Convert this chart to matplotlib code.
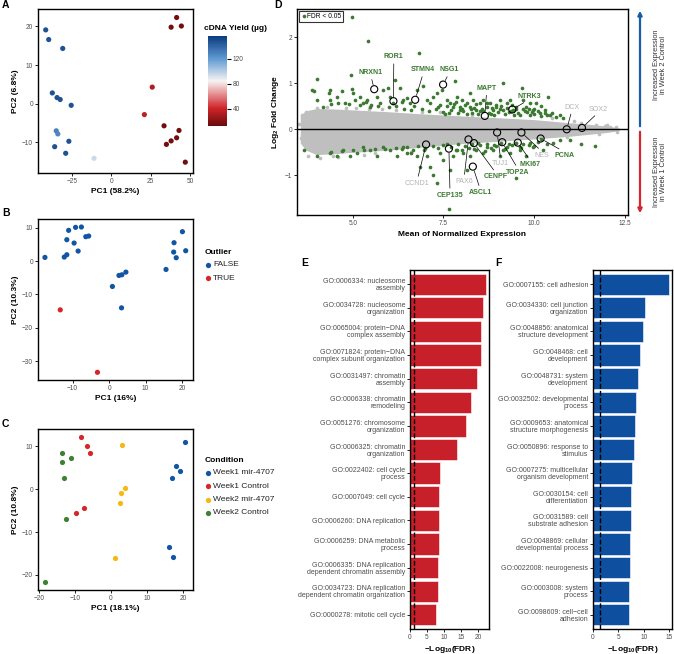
import matplotlib
matplotlib.use('Agg')
import matplotlib.pyplot as plt
from matplotlib.colors import LinearSegmentedColormap, Normalize
from matplotlib.lines import Line2D
import matplotlib.colorbar as mcb
import matplotlib.patches as mpatches

plt.rcParams['font.family'] = ['Liberation Sans', 'DejaVu Sans']
plt.rcParams['mathtext.fontset'] = 'custom'
plt.rcParams['mathtext.rm'] = 'Liberation Sans'
plt.rcParams['mathtext.bf'] = 'Liberation Sans:bold'
plt.rcParams['mathtext.default'] = 'regular'

# ---------------- data ----------------
# Panel A
a_pc1 = [-41.7, -39.8, -30.9, -37.5, -34.5, -32.5, -25.5, -35.0, -34.0, -36.0, -27.0, -29.0, -11.0,
         41.5, 38.0, 44.5, 26.0, 21.0, 33.5, 43.0, 41.5, 38.0, 35.0, 47.0]
a_pc2 = [19.1, 16.6, 14.3, 2.8, 1.6, 1.1, -0.4, -7.0, -7.8, -11.1, -9.7, -12.8, -14.1,
         22.3, 19.8, 20.1, 4.3, -2.8, -5.7, -6.9, -8.8, -9.6, -10.5, -15.1]
a_yield = [148, 148, 148, 148, 148, 148, 148, 130, 128, 148, 148, 148, 95,
           15, 15, 15, 32, 36, 15, 15, 15, 15, 15, 15]

# Panel B
b_pc1 = [-17.6, -11.1, -9.2, -7.6, -11.6, -9.6, -6.4, -5.6, -12.3, -11.6, -8.5, 0.9, 2.7, 3.5, 4.6, 3.4,
         15.6, 20.1, 17.8, 17.7, 18.4, 21.0, -13.4, -3.2]
b_pc2 = [1.1, 9.2, 10.1, 10.2, 6.4, 5.4, 7.3, 7.5, 1.2, 1.9, 3.0, -7.6, -4.3, -4.1, -3.3, -14.0,
         -2.5, 8.8, 5.5, 2.7, 1.0, 3.1, -14.6, -33.3]
b_outlier = ['FALSE'] * 22 + ['TRUE'] * 2
b_levels = ['FALSE', 'TRUE']

# Panel C
c_levels = ['Week1 mir-4707', 'Week1 Control', 'Week2 mir-4707', 'Week2 Control']
c_pc1 = {
    'Week1 mir-4707': [20.6, 18.1, 19.0, 17.0, 16.0, 17.3],
    'Week1 Control': [-8.4, -6.5, -5.7, -7.6, -9.7],
    'Week2 mir-4707': [3.1, 3.9, 2.8, 2.5, 1.2],
    'Week2 Control': [-13.5, -13.6, -11.0, -13.0, -12.4, -18.2],
}
c_pc2 = {
    'Week1 mir-4707': [10.9, 5.3, 4.3, 2.5, -13.6, -15.8],
    'Week1 Control': [12.2, 10.0, 8.4, -4.5, -5.6],
    'Week2 mir-4707': [10.2, 0.3, -0.8, -3.3, -16.0],
    'Week2 Control': [8.4, 6.4, 7.3, 2.6, -6.9, -21.7],
}

# Panel D: envelope of the dense non-significant cloud
cloud_x = [3.55, 3.7, 4.0, 4.5, 5.0, 6.0, 7.0, 8.0, 9.0, 10.0, 11.0, 11.5, 12.0, 12.35]
cloud_hi = [0.30, 0.40, 0.45, 0.44, 0.42, 0.38, 0.33, 0.29, 0.25, 0.21, 0.14, 0.11, 0.07, 0.03]
cloud_lo = [-0.30, -0.45, -0.55, -0.53, -0.50, -0.45, -0.38, -0.31, -0.26, -0.21, -0.15, -0.11, -0.07, -0.03]
gray_x = [3.6, 3.75, 4.1, 4.3, 4.6, 5.3, 5.8, 6.6, 7.4, 11.7, 11.95, 12.1, 12.25, 10.9, 11.3, 3.7, 4.0, 5.1,
          3.52, 3.58, 4.8, 5.6, 6.2, 7.0, 8.3, 9.5, 10.5, 11.1, 11.8, 12.0, 12.3, 4.45, 5.45, 6.9]
gray_y = [0.32, -0.58, -0.62, 0.48, -0.6, -0.55, 0.44, -0.5, 0.37, 0.1, 0.08, 0.06, 0.04, -0.17, 0.14, 0.38,
          0.47, 0.46, 0.12, -0.2, 0.47, -0.52, 0.42, -0.43, 0.32, -0.3, 0.24, 0.17, -0.1, 0.09, -0.05, -0.58,
          0.45, 0.37]

green_x = [4.01, 3.87, 3.92, 4.01, 4.38, 4.33, 4.36, 4.19, 4.56, 4.70, 4.79, 4.95, 4.97, 5.0, 5.06, 5.20,
           5.29, 5.39, 5.43, 5.48, 5.66, 5.75, 5.84, 5.98, 6.03, 6.17, 6.30, 6.35, 6.39, 6.49, 6.58, 6.76,
           6.83, 6.94, 7.04, 7.13, 7.22, 7.31, 7.36, 7.45, 7.59, 7.68, 7.82, 7.86, 7.95, 8.0, 8.14, 8.23,
           8.23, 8.32, 8.41, 8.50, 8.60, 8.69, 8.78, 8.87, 8.96, 9.06, 9.13, 9.15, 9.24, 9.33, 9.42, 9.51,
           9.67, 9.70, 9.79, 9.88, 9.97, 10.06, 10.16, 10.29, 10.39, 10.48, 10.71, 10.80,
           7.5, 7.7, 7.9, 8.05, 8.3, 8.45, 8.55, 8.75, 8.9, 9.0, 9.2, 9.35, 9.55, 9.6, 9.8, 9.9, 10.0,
           10.2, 10.35, 10.6, 7.3, 7.1, 6.9, 6.6, 6.4, 6.2, 6.0, 5.7, 5.5, 5.2, 4.9, 4.6, 4.4, 8.1, 8.4,
           8.7, 9.1, 9.4, 9.7, 10.0, 10.2, 8.0, 7.8, 7.6, 9.25, 8.85,
           7.55, 7.75, 7.95, 8.15, 8.35, 8.6, 8.8, 9.05, 9.3, 9.5, 9.75, 9.95, 10.1, 10.45, 7.4, 7.65,
           7.85, 8.25, 8.5, 8.95, 9.45, 9.85, 10.3, 6.7, 6.1, 5.35,
           3.64, 4.01, 4.38, 4.56, 4.74, 4.93, 5.11, 5.29, 5.48, 5.66, 5.84, 6.03, 6.21, 6.39, 6.49, 6.67,
           6.76, 6.85, 7.04, 7.13, 7.22, 7.31, 7.40, 7.50, 7.65, 7.68, 7.77, 7.86, 8.05, 8.14, 8.23, 8.41,
           8.60, 8.69, 8.87, 9.06, 9.24, 9.33, 9.49, 9.61, 9.79, 9.97, 10.25, 10.52, 10.71, 10.98, 11.30,
           11.67, 10.2, 7.5, 7.7, 7.9, 8.1, 8.3, 8.5, 8.7, 8.9, 9.1, 9.3, 9.5, 9.7, 9.9, 10.1, 6.5, 6.8,
           7.0, 7.2, 6.2, 5.9, 5.6, 5.3, 5.0, 4.7, 4.4, 8.0, 8.35, 8.8, 9.2, 9.6, 10.0,
           7.35, 7.6, 7.85, 8.2, 8.45, 8.65, 8.95, 9.15, 9.4, 9.65, 9.85, 10.35, 6.95, 6.6, 6.35]
green_y = [1.09, 0.86, 0.82, 0.64, 0.86, 0.78, 0.64, 0.49, 0.71, 0.82, 0.57, 1.17, 0.87, 0.78, 0.64, 0.71,
           0.57, 0.64, 1.92, 0.49, 0.71, 0.57, 0.86, 0.89, 0.71, 1.07, 0.89, 0.60, 0.64, 0.67, 0.57, 0.86,
           1.66, 0.93, 0.64, 0.57, 0.71, 0.78, 0.49, 0.86, 0.64, 0.57, 1.04, 0.71, 0.49, 0.64, 0.57, 0.78,
           0.49, 0.64, 0.42, 0.57, 0.64, 0.49, 0.57, 0.42, 0.49, 0.64, 1.0, 0.42, 0.57, 0.64, 0.42, 0.49,
           0.89, 0.64, 0.49, 0.57, 0.42, 0.57, 0.35, 0.42, 0.69, 0.35, 0.31, 0.24,
           0.38, 0.42, 0.35, 0.40, 0.36, 0.33, 0.45, 0.36, 0.30, 0.38, 0.33, 0.40, 0.35, 0.30, 0.37, 0.30,
           0.33, 0.28, 0.31, 0.26, 0.45, 0.40, 0.45, 0.42, 0.45, 0.50, 0.48, 0.50, 0.53, 0.52, 0.55, 0.58,
           0.55, 0.52, 0.54, 0.58, 0.50, 0.53, 0.45, 0.45, 0.50, 0.45, 0.55, 0.50, 0.46, 0.46,
           0.33, 0.48, 0.41, 0.34, 0.47, 0.39, 0.33, 0.44, 0.37, 0.45, 0.40, 0.37, 0.40, 0.30, 0.52, 0.36,
           0.60, 0.43, 0.39, 0.53, 0.32, 0.44, 0.36, 0.50, 0.56, 0.60,
           -0.45, -0.59, -0.52, -0.59, -0.45, -0.59, -0.52, -0.38, -0.45, -0.59, -0.38, -0.45, -0.59, -0.38,
           -0.52, -0.45, -0.59, -0.81, -0.59, -0.81, -0.99, -1.16, -0.52, -0.67, -1.73, -0.88, -0.59, -0.45,
           -0.52, -0.88, -0.59, -0.45, -0.52, -0.38, -0.45, -0.59, -0.38, -0.52, -1.05, -0.45, -0.59, -0.38,
           -0.45, -0.30, -0.23, -0.23, -0.33, -0.36, -0.22, -0.35, -0.38, -0.33, -0.36, -0.32, -0.35, -0.31,
           -0.34, -0.30, -0.33, -0.30, -0.32, -0.29, -0.28, -0.38, -0.36, -0.40, -0.37, -0.40, -0.42, -0.42,
           -0.44, -0.45, -0.48, -0.50, -0.45, -0.42, -0.40, -0.42, -0.38, -0.36,
           -0.41, -0.33, -0.44, -0.40, -0.30, -0.47, -0.37, -0.44, -0.35, -0.41, -0.34, -0.33, -0.46, -0.52,
           -0.43]
# extra high outlier
green_x += [4.99]
green_y += [2.43]

genes = ['NRXN1', 'ROR1', 'STMN4', 'NSG1', 'MAPT', 'NTRK3', 'DCX', 'SOX2', 'TUJ1', 'NES', 'PCNA', 'MKI67',
         'TOP2A', 'CENPF', 'PAX6', 'ASCL1', 'CEP135', 'CCND1']
gene_x = [5.59, 6.12, 6.72, 7.49, 8.64, 9.40, 10.90, 11.32, 8.98, 9.65, 10.18, 9.55, 9.12, 8.34, 8.19, 8.31,
          7.65, 7.02]
gene_y = [0.87, 0.61, 0.64, 0.97, 0.29, 0.43, 0.0, 0.03, -0.07, -0.07, -0.20, -0.29, -0.28, -0.30, -0.22,
          -0.81, -0.42, -0.33]
gene_sig = [True, True, True, True, True, True, False, False, False, False, True, True, True, True, False,
            True, True, False]
label_x = [5.5, 6.13, 6.94, 7.65, 8.69, 9.86, 11.04, 11.77, 9.08, 10.22, 10.84, 9.90, 9.55, 8.95, 8.07, 8.51,
           7.68, 6.78]
label_y = [1.23, 1.57, 1.29, 1.29, 0.89, 0.72, 0.48, 0.44, -0.74, -0.56, -0.57, -0.76, -0.93, -1.03, -1.13,
           -1.37, -1.43, -1.17]

# Panel E
e_terms = ['GO:0006334: nucleosome\nassembly', 'GO:0034728: nucleosome\norganization',
           'GO:0065004: protein\u2212DNA\ncomplex assembly',
           'GO:0071824: protein\u2212DNA\ncomplex subunit organization',
           'GO:0031497: chromatin\nassembly', 'GO:0006338: chromatin\nremodeling',
           'GO:0051276: chromosome\norganization', 'GO:0006325: chromatin\norganization',
           'GO:0022402: cell cycle\nprocess', 'GO:0007049: cell cycle', 'GO:0006260: DNA replication',
           'GO:0006259: DNA metabolic\nprocess', 'GO:0006335: DNA replication\ndependent chromatin assembly',
           'GO:0034723: DNA replication\ndependent chromatin organization', 'GO:0000278: mitotic cell cycle']
e_vals = [22.4, 21.4, 20.9, 20.9, 19.9, 18.1, 16.5, 13.8, 8.8, 8.6, 8.6, 8.5, 8.3, 8.3, 7.7]

# Panel F
f_terms = ['GO:0007155: cell adhesion', 'GO:0034330: cell junction\norganization',
           'GO:0048856: anatomical\nstructure development', 'GO:0048468: cell\ndevelopment',
           'GO:0048731: system\ndevelopment', 'GO:0032502: developmental\nprocess',
           'GO:0009653: anatomical\nstructure morphogenesis', 'GO:0050896: response to\nstimulus',
           'GO:0007275: multicellular\norganism development', 'GO:0030154: cell\ndifferentiation',
           'GO:0031589: cell\nsubstrate adhesion', 'GO:0048869: cellular\ndevelopmental process',
           'GO:0022008: neurogenesis', 'GO:0003008: system\nprocess', 'GO:0098609: cell\u2212cell\nadhesion']
f_vals = [14.95, 10.25, 9.9, 9.3, 8.8, 8.55, 8.3, 8.0, 7.75, 7.5, 7.5, 7.4, 7.25, 7.2, 7.1]
fdr_cut = 1.3

# ---------------- style ----------------
W, H = 674, 654
fig = plt.figure(figsize=(W / 100, H / 100), dpi=100)

TICK_FS = 4.7
TITLE_FS = 6.0
LEG_FS = 6.0
GO_FS = 5.0
GRAY = '#4d4d4d'


def add_ax(l, t, r, b):
    return fig.add_axes([l / W, 1 - b / H, (r - l) / W, (b - t) / H])


def style(ax, lw=1.0):
    for s in ax.spines.values():
        s.set_linewidth(lw)
        s.set_color('black')
    ax.tick_params(length=2, width=0.6, labelsize=TICK_FS, labelcolor=GRAY, pad=1.5)


def ftext(x, y, s, **kw):
    fig.text(x / W, 1 - y / H, s, **kw)


# ---------------- Panel A ----------------
axA = add_ax(38, 9, 193, 173)
cmap = LinearSegmentedColormap.from_list('yield', [(0.0, '#6a0a0a'), (0.2, '#d0262a'), (0.5, '#f7f3f3'),
                                                    (0.75, '#5f9ad2'), (1.0, '#0b3a80')])
norm = Normalize(12, 157)
axA.scatter(a_pc1, a_pc2, c=a_yield, cmap=cmap, norm=norm, s=14, linewidths=0, zorder=3)
axA.set_xlim(-46.6, 51.9)
axA.set_ylim(-17.9, 24.5)
axA.set_xticks([-25, 0, 25, 50])
axA.set_yticks([-10, 0, 10, 20])
style(axA)
axA.set_xlabel('PC1 (58.2%)', fontsize=TITLE_FS, fontweight='bold', labelpad=2)
axA.set_ylabel('PC2 (6.8%)', fontsize=TITLE_FS, fontweight='bold', labelpad=2)

cax = add_ax(208, 36, 227, 126)
cb = mcb.ColorbarBase(cax, cmap=cmap, norm=norm, orientation='vertical')
cb.outline.set_visible(False)
cb.set_ticks([40, 80, 120])
cax.tick_params(length=3, width=0.8, labelsize=TICK_FS, labelcolor=GRAY, pad=1)
ftext(204, 29, 'cDNA Yield (\u00b5g)', fontsize=TITLE_FS, fontweight='bold', va='center')

# ---------------- Panel B ----------------
axB = add_ax(38, 219, 193, 380)
bcol = {'FALSE': '#1155a5', 'TRUE': '#d4262b'}
axB.scatter(b_pc1, b_pc2, c=[bcol[o] for o in b_outlier], s=14, linewidths=0, zorder=3)
axB.set_xlim(-19.5, 23.0)
axB.set_ylim(-35.6, 12.6)
axB.set_xticks([-10, 0, 10, 20])
axB.set_yticks([-30, -20, -10, 0, 10])
style(axB)
axB.set_xlabel('PC1 (16%)', fontsize=TITLE_FS, fontweight='bold', labelpad=2)
axB.set_ylabel('PC2 (10.3%)', fontsize=TITLE_FS, fontweight='bold', labelpad=2)
ftext(205, 253, 'Outlier', fontsize=TITLE_FS, fontweight='bold', va='center')
for i, lv in enumerate(b_levels):
    yy = 264.5 + i * 13.5
    fig.add_artist(Line2D([207.5 / W], [1 - yy / H], marker='o', ms=3.8, color=bcol[lv], mew=0,
                          transform=fig.transFigure))
    ftext(213, yy, lv, fontsize=LEG_FS, va='center', color='#222222')

# ---------------- Panel C ----------------
axC = add_ax(38, 429, 193, 590)
ccol = {'Week1 mir-4707': '#1155a5', 'Week1 Control': '#d4262b', 'Week2 mir-4707': '#f6b70f',
        'Week2 Control': '#3e8134'}
for lv in c_levels:
    axC.scatter(c_pc1[lv], c_pc2[lv], color=ccol[lv], s=14, linewidths=0, zorder=3)
axC.set_xlim(-20.2, 22.7)
axC.set_ylim(-23.5, 14.0)
axC.set_xticks([-20, -10, 0, 10, 20])
axC.set_yticks([-20, -10, 0, 10])
style(axC)
axC.set_xlabel('PC1 (18.1%)', fontsize=TITLE_FS, fontweight='bold', labelpad=2)
axC.set_ylabel('PC2 (10.8%)', fontsize=TITLE_FS, fontweight='bold', labelpad=2)
ftext(205, 460, 'Condition', fontsize=TITLE_FS, fontweight='bold', va='center')
for i, lv in enumerate(c_levels):
    yy = 472.7 + i * 13.4
    fig.add_artist(Line2D([207.5 / W], [1 - yy / H], marker='o', ms=3.8, color=ccol[lv], mew=0,
                          transform=fig.transFigure))
    ftext(213, yy, lv, fontsize=LEG_FS, va='center', color='#222222')

# ---------------- Panel D ----------------
axD = add_ax(297, 9, 628, 215)
GREEN = '#3b7a30'
LGRAY = '#bfbfbf'
axD.fill_between(cloud_x, cloud_lo, cloud_hi, color=LGRAY, lw=0, zorder=1)
axD.scatter(gray_x, gray_y, color=LGRAY, s=7, linewidths=0, zorder=1)
axD.scatter(green_x, green_y, color=GREEN, s=7, linewidths=0, zorder=2, label='FDR < 0.05')
axD.axhline(0, color='black', lw=1.0, zorder=3)
axD.scatter(gene_x, gene_y, facecolors='none', edgecolors='black', s=26, linewidths=0.8, zorder=4)
for g, gx, gy, lx, ly, sg in zip(genes, gene_x, gene_y, label_x, label_y, gene_sig):
    rp = (0.5, 0.0) if ly > gy else (0.5, 1.0)
    axD.annotate(g, xy=(gx, gy), xytext=(lx, ly), ha='center', va='center', fontsize=5.1,
                 fontweight='bold' if sg else 'normal', color=GREEN if sg else '#b3b3b3',
                 arrowprops=dict(arrowstyle='-', lw=0.5, color='black', shrinkA=0.5, shrinkB=3.2,
                                 relpos=rp), zorder=5)
axD.set_xlim(3.46, 12.59)
axD.set_ylim(-1.86, 2.61)
axD.set_xticks([5, 7.5, 10, 12.5])
axD.set_xticklabels(['5.0', '7.5', '10.0', '12.5'])
axD.set_yticks([-1, 0, 1, 2])
style(axD)
axD.set_xlabel('Mean of Normalized Expression', fontsize=TITLE_FS, fontweight='bold', labelpad=3)
axD.set_ylabel('Log$_2$ Fold Change', fontsize=TITLE_FS, fontweight='bold', labelpad=3)
leg = axD.legend(loc='upper left', fontsize=4.8, frameon=True, fancybox=False, borderpad=0.35,
                 handletextpad=0.1, handlelength=0.8, borderaxespad=0.25, markerscale=1.0)
leg.get_frame().set_edgecolor('black')
leg.get_frame().set_linewidth(0.8)

# arrows right of D
fig.add_artist(mpatches.FancyArrowPatch((640 / W, 1 - 129 / H), (640 / W, 1 - 8 / H),
                                        transform=fig.transFigure, arrowstyle='-|>',
                                        mutation_scale=6, color='#1a5aa8', lw=1.6))
fig.add_artist(mpatches.FancyArrowPatch((640 / W, 1 - 129 / H), (640 / W, 1 - 216 / H),
                                        transform=fig.transFigure, arrowstyle='-|>',
                                        mutation_scale=6, color='#d4262b', lw=1.6))
ftext(660, 65, 'Increased Expression\nin Week 2 Control', rotation=90, ha='center', va='center',
      fontsize=5.3, color='#333333', linespacing=1.1)
ftext(660, 172, 'Increased Expression\nin Week 1 Control', rotation=90, ha='center', va='center',
      fontsize=5.3, color='#333333', linespacing=1.1)


# ---------------- Panels E & F ----------------
def go_panel(ax, terms, vals, color, xmax, ticks):
    ypos = list(range(len(terms)))
    ax.barh(ypos, vals, height=0.9, color=color, edgecolor='white', linewidth=0.4, zorder=2)
    ax.axvline(fdr_cut, color='black', lw=1.0, dashes=(3.5, 1.6), zorder=3)
    ax.set_ylim(len(terms) - 0.4, -0.6)
    ax.set_xlim(0, xmax)
    ax.set_yticks(ypos)
    ax.set_yticklabels(terms, fontsize=GO_FS, color=GRAY, linespacing=1.0)
    ax.set_xticks(ticks)
    style(ax)
    ax.tick_params(axis='y', labelsize=GO_FS)
    ax.set_xlabel('\u2212Log$_{10}$(FDR)', fontsize=TITLE_FS, fontweight='bold', labelpad=2)


axE = add_ax(410, 270, 489, 629)
go_panel(axE, e_terms, e_vals, '#c8202a', 23.3, [0, 5, 10, 15, 20])
axF = add_ax(593, 270, 672, 629)
go_panel(axF, f_terms, f_vals, '#0e4fa0', 15.6, [0, 5, 10, 15])

# panel letters
for letter, x, y in [('A', 2, 5), ('B', 2, 213), ('C', 2, 424), ('D', 274, 5), ('E', 301, 263),
                     ('F', 495, 263)]:
    ftext(x, y, letter, fontsize=7.5, fontweight='bold', va='center')

fig.savefig('out.png', dpi=100)
